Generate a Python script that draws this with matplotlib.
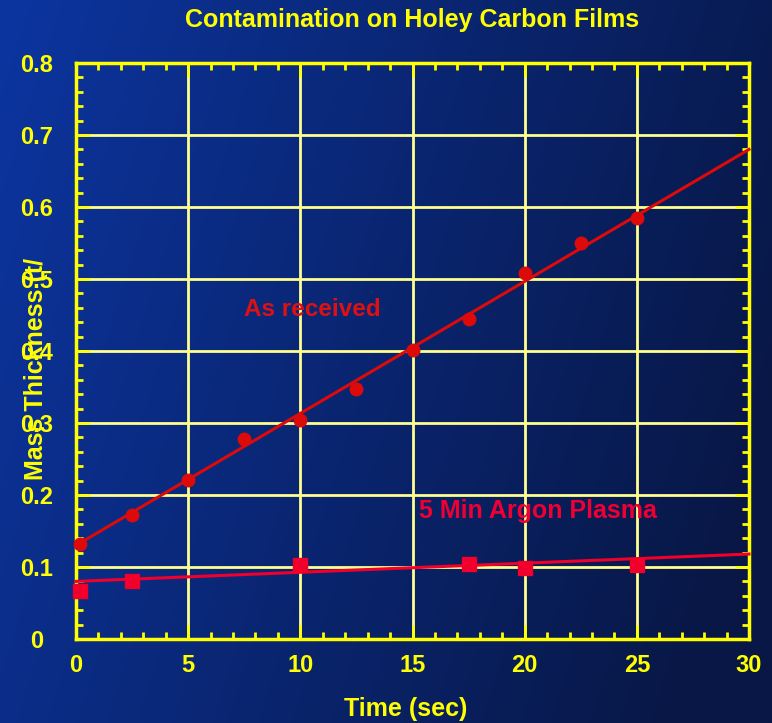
import numpy as np
import matplotlib
matplotlib.use("Agg")
import matplotlib.pyplot as plt
from matplotlib.ticker import MultipleLocator

plt.rcParams['font.family'] = ['Liberation Sans', 'DejaVu Sans']

# Data
t_received = [0.2, 2.5, 5, 7.5, 10, 12.5, 15, 17.5, 20, 22.5, 25]
m_received = [0.132, 0.172, 0.221, 0.278, 0.304, 0.347, 0.401, 0.444, 0.508, 0.550, 0.585]
fit_received_t = [0, 30]
fit_received_m = [0.130, 0.680]

t_plasma = [0.2, 2.5, 10, 17.5, 20, 25]
m_plasma = [0.067, 0.080, 0.103, 0.104, 0.099, 0.103]
fit_plasma_t = [0, 30]
fit_plasma_m = [0.080, 0.118]

title = "Contamination on Holey Carbon Films"
xlabel = "Time (sec)"
ylabel = "Mass Thickness (t/"
yticks = [0, 0.1, 0.2, 0.3, 0.4, 0.5, 0.6, 0.7, 0.8]
ytick_labels = ["0", "0.1", "0.2", "0.3", "0.4", "0.5", "0.6", "0.7", "0.8"]
xticks = [0, 5, 10, 15, 20, 25, 30]

W, H = 772, 723
fig = plt.figure(figsize=(W/100, H/100), dpi=100)

# background gradient
bg = fig.add_axes([0, 0, 1, 1], zorder=-10)
xx = np.linspace(0, 1, 300)
yy = np.linspace(0, 1, 300)
X, Y = np.meshgrid(xx, yy)
c_left = np.array([0x0c, 0x35, 0xa0]) / 255
c_right = np.array([0x08, 0x17, 0x45]) / 255
f = np.clip(0.85 * X + 0.25 * Y, 0, 1)[..., None]
img = c_left * (1 - f) + c_right * f
bg.imshow(img, extent=[0, 1, 0, 1], aspect='auto', origin='upper')
bg.axis('off')

ax = fig.add_axes([76/W, 1 - 639/H, (749-76)/W, (639-63)/H])
ax.patch.set_alpha(0)
ax.set_xlim(0, 30)
ax.set_ylim(0, 0.8)

yellow = '#ffff00'
grid_c = '#ffff90'
ax.xaxis.set_minor_locator(MultipleLocator(1))
ax.yaxis.set_minor_locator(MultipleLocator(0.02))
ax.grid(True, which='major', color=grid_c, lw=2.0, zorder=1)
ax.set_axisbelow(True)
for s in ax.spines.values():
    s.set_color(yellow)
    s.set_linewidth(2.5)
ax.tick_params(which='both', direction='in', colors=yellow, top=True, right=True,
               width=2.0)
ax.tick_params(which='major', length=10)
ax.tick_params(which='minor', length=5)

ax.set_xticks(xticks)
ax.set_xticklabels([str(v) for v in xticks], fontsize=17, fontweight='bold', color=yellow)
ax.tick_params(axis='x', pad=11)
ax.set_yticks(yticks)
ax.set_yticklabels(ytick_labels, fontsize=17, fontweight='bold', color=yellow, ha='center')
ax.tick_params(axis='y', pad=28.5)

# data
ax.plot(fit_received_t, fit_received_m, color='#dd0a0a', lw=2.2, zorder=3, clip_on=False)
ax.plot(t_received, m_received, 'o', color='#dd0a0a', ms=9, zorder=4, clip_on=False)
ax.plot(fit_plasma_t, fit_plasma_m, color='#f0002a', lw=2.2, zorder=3, clip_on=False)
ax.plot(t_plasma, m_plasma, 's', color='#f0002a', ms=10, zorder=4, clip_on=False)

ax.text(7.5, 0.458, "As received", color='#dd1111', fontsize=17.5, fontweight='bold', va='center')
ax.text(15.3, 0.178, "5 Min Argon Plasma", color='#ee0033', fontsize=18, fontweight='bold', va='center')

fig.text(412/W, 1 - 20/H, title, color=yellow, fontsize=18, fontweight='bold', ha='center', va='center')
fig.text(406/W, 1 - 709/H, xlabel, color=yellow, fontsize=18, fontweight='bold', ha='center', va='center')
fig.text(36/W, 1 - 369/H, ylabel, color=yellow, fontsize=18, fontweight='bold', ha='center', va='center', rotation=90)

fig.savefig("out.png", dpi=100)
